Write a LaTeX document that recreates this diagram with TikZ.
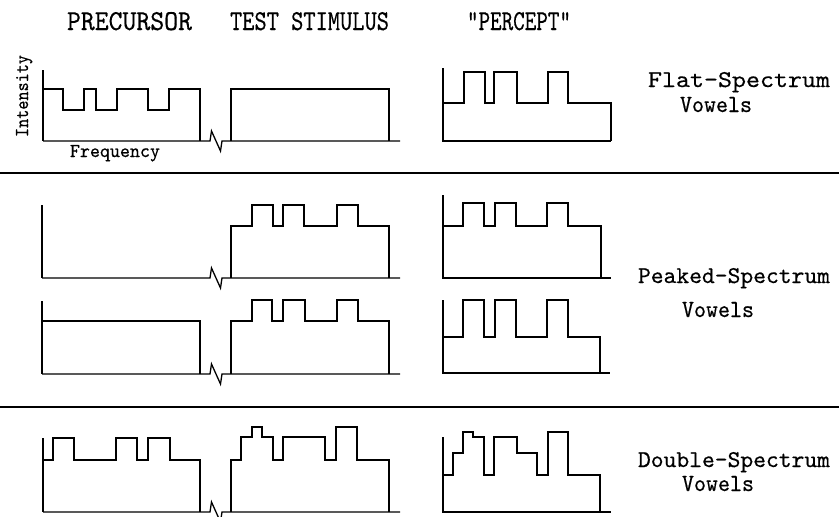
\documentclass[tikz,border=0pt]{standalone}
\usepackage{fontspec}
\usepackage{graphicx}
\newfontfamily\tw{lmmono10-regular.otf}[FakeBold=0.4]
\tikzset{
  ln/.style={line width=1.3pt, line join=miter},
  sep/.style={line width=1.3pt},
  lab/.style={inner sep=0pt, outer sep=0pt, font=\tw}
}
\begin{document}
\begin{tikzpicture}[x=1pt,y=-1pt]
\useasboundingbox (0,0) rectangle (839,517);
\clip (0,0) rectangle (839,517);
\fill[white] (0,0) rectangle (839,517);

% headers
\node[lab, anchor=base west] (hpre) at (67,30) {\resizebox{125pt}{18pt}{PRECURSOR}};
\node[lab, anchor=base west] (htest) at (230,30) {\resizebox{159pt}{18pt}{TEST STIMULUS}};
\node[lab, anchor=base west] (hperc) at (467,30) {\resizebox{104pt}{18pt}{"PERCEPT"}};

% separators
\draw[sep] (0,173) -- (839,173);
\draw[sep] (0,407) -- (839,407);

% axis labels
\node[lab, anchor=base west, rotate=90] (inten) at (28,137) {\resizebox{82pt}{12pt}{Intensity}};
\node[lab, anchor=base west] (freq) at (70,157) {\resizebox{90pt}{12pt}{Frequency}};

% row labels
\node[lab, anchor=base east] (flat) at (830,87) {\resizebox{182pt}{15pt}{Flat-Spectrum}};
\node[lab, anchor=base west] (flatv) at (680,112) {\resizebox{72pt}{15pt}{Vowels}};
\node[lab, anchor=base east] (peak) at (830,283) {\resizebox{192pt}{15pt}{Peaked-Spectrum}};
\node[lab, anchor=base west] (peakv) at (682,317) {\resizebox{72pt}{15pt}{Vowels}};
\node[lab, anchor=base east] (dbl) at (830,467) {\resizebox{192pt}{15pt}{Double-Spectrum}};
\node[lab, anchor=base west] (dblv) at (682,491) {\resizebox{72pt}{15pt}{Vowels}};

% ---------- Row 1: flat ----------
\draw[ln] (43,70) -- (43,141);
\draw[ln] (43,89) -- (63,89) -- (63,110) -- (84,110) -- (84,89) -- (96,89) -- (96,110)
  -- (117,110) -- (117,89) -- (148,89) -- (148,110) -- (169,110) -- (169,89) -- (200,89) -- (200,141);
\draw[ln] (43,141) -- (210,141) -- (211.5,131) -- (220.5,151) -- (222,141) -- (400,141);
\draw[ln] (231,141) -- (231,89) -- (389,89) -- (389,141);
\draw[ln] (443,68) -- (443,141) -- (611,141);
\draw[ln] (443,103) -- (464,103) -- (464,72) -- (485,72) -- (485,103) -- (494,103) -- (494,72)
  -- (517,72) -- (517,103) -- (548,103) -- (548,72) -- (568,72) -- (568,103) -- (611,103) -- (611,141);

% ---------- Row 2: peaked, no precursor ----------
\draw[ln] (42,205) -- (42,278);
\draw[ln] (42,278) -- (210,278) -- (211.5,268) -- (220.5,288) -- (222,278) -- (400,278);
\draw[ln] (231,278) -- (231,226) -- (252,226) -- (252,205) -- (273,205) -- (273,226) -- (283,226)
  -- (283,205) -- (304,205) -- (304,226) -- (337,226) -- (337,205) -- (358,205) -- (358,226)
  -- (389,226) -- (389,278);
\draw[ln] (443,195) -- (443,278) -- (611,278);
\draw[ln] (443,226) -- (463,226) -- (463,203) -- (484,203) -- (484,226) -- (495,226) -- (495,203)
  -- (516,203) -- (516,226) -- (547,226) -- (547,203) -- (568,203) -- (568,226) -- (601,226) -- (601,278);

% ---------- Row 3: peaked, flat precursor ----------
\draw[ln] (42,301) -- (42,374);
\draw[ln] (42,321) -- (200,321) -- (200,374);
\draw[ln] (42,374) -- (210,374) -- (211.5,364) -- (220.5,384) -- (222,374) -- (400,374);
\draw[ln] (231,374) -- (231,321) -- (252,321) -- (252,300) -- (272,300) -- (272,321) -- (283,321)
  -- (283,300) -- (305,300) -- (305,321) -- (337,321) -- (337,300) -- (358,300) -- (358,321)
  -- (389,321) -- (389,374);
\draw[ln] (443,300) -- (443,373) -- (610,373);
\draw[ln] (443,337) -- (463,337) -- (463,300) -- (484,300) -- (484,337) -- (495,337) -- (495,300)
  -- (516,300) -- (516,337) -- (547,337) -- (547,300) -- (568,300) -- (568,337) -- (600,337) -- (600,373);

% ---------- Row 4: double ----------
\draw[ln] (43,438) -- (43,512);
\draw[ln] (43,460) -- (53,460) -- (53,438) -- (74,438) -- (74,460) -- (116,460) -- (116,438)
  -- (137,438) -- (137,460) -- (148,460) -- (148,438) -- (170,438) -- (170,460) -- (200,460) -- (200,512);
\draw[ln] (43,512) -- (210,512) -- (211.5,502) -- (220.5,522) -- (222,512) -- (400,512);
\draw[ln] (231,512) -- (231,460) -- (241,460) -- (241,437) -- (252,437) -- (252,427) -- (262,427)
  -- (262,437) -- (273,437) -- (273,460) -- (283,460) -- (283,437) -- (325,437) -- (325,460)
  -- (336,460) -- (336,427) -- (357,427) -- (357,460) -- (389,460) -- (389,512);
\draw[ln] (443,437) -- (443,512) -- (611,512);
\draw[ln] (443,475) -- (453,475) -- (453,453) -- (463,453) -- (463,432) -- (473,432) -- (473,437)
  -- (484,437) -- (484,475) -- (494,475) -- (494,437) -- (517,437) -- (517,453) -- (537,453)
  -- (537,475) -- (548,475) -- (548,432) -- (568,432) -- (568,475) -- (600,475) -- (600,512);
\end{tikzpicture}
\end{document}
